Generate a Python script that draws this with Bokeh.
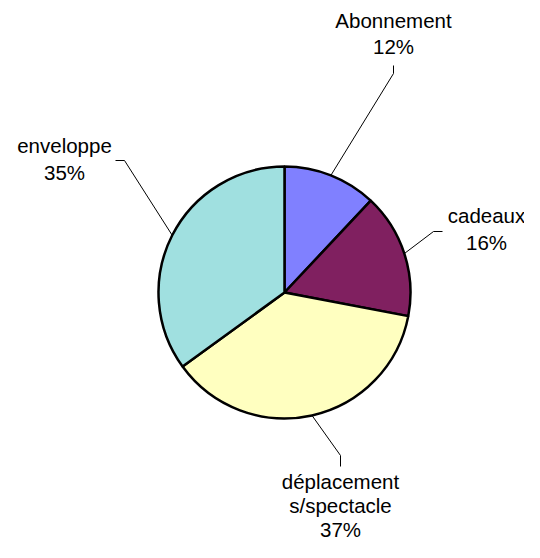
import math
from bokeh.plotting import figure
from bokeh.models import Range1d, ColumnDataSource
from bokeh.core.properties import value
from bokeh.embed import file_html
from bokeh.resources import INLINE

# ---- data ----
categories = ["Abonnement", "cadeaux", "déplacements/spectacle", "enveloppe"]
label_lines = [["Abonnement"], ["cadeaux"], ["déplacement", "s/spectacle"], ["enveloppe"]]
values = [12, 16, 37, 35]
colors = ["#8080FF", "#802060", "#FFFFC0", "#A0E0E0"]

# ---- layout (picture pixel coords; data y = -picture y) ----
W, H = 524, 542
CX, CY, R = 284, 292, 126
label_cx = [393, 486, 340, 64]          # text centre x
label_y0 = [20, 215, 481, 145]          # first line anchor
label_step = [26, 27, 24, 27]
elbow = [(393, 73), (433, 231), (340, 455), (124, 160)]
tip = [(393, 65), (442, 231), (340, 466), (115, 160)]

p = figure(width=W, height=H, x_range=Range1d(0, W), y_range=Range1d(-H, 0),
           output_backend="svg", toolbar_location=None, min_border=0)
p.axis.visible = False
p.grid.visible = False
p.outline_line_color = None
p.background_fill_color = "white"

total = sum(values)
starts, ends, mids = [], [], []
cum = 0.0
for v in values:
    c0 = cum / total
    cum += v
    c1 = cum / total
    # clockwise from 12 o'clock
    starts.append(math.pi / 2 - 2 * math.pi * c1)
    ends.append(math.pi / 2 - 2 * math.pi * c0)
    mids.append(math.pi / 2 - 2 * math.pi * (c0 + c1) / 2)

src = ColumnDataSource(dict(x=[CX] * len(values), y=[-CY] * len(values),
                            start=starts, end=ends, color=colors, cat=categories, val=values))
p.wedge(x="x", y="y", radius=R, start_angle="start", end_angle="end", direction="anticlock",
        fill_color="color", line_color="black", line_width=2.5, source=src)

# leader lines
xs, ys = [], []
for m, e, t in zip(mids, elbow, tip):
    sx = CX + R * math.cos(m)
    sy = CY - R * math.sin(m)
    xs.append([sx, e[0], t[0]])
    ys.append([-sy, -e[1], -t[1]])
p.multi_line(xs=xs, ys=ys, line_color="black", line_width=1)

# labels
tx, ty, tt = [], [], []
for lines, v, lx, ly, st in zip(label_lines, values, label_cx, label_y0, label_step):
    all_lines = lines + [f"{v}%"]
    for i, s in enumerate(all_lines):
        tx.append(lx)
        ty.append(-(ly + i * st))
        tt.append(s)
p.text(x=tx, y=ty, text=tt, text_font=value("Liberation Sans"), text_font_size="20.5px",
       text_align="center", text_baseline="alphabetic", text_color="black")

open("out.html", "w").write(file_html(p, INLINE))
